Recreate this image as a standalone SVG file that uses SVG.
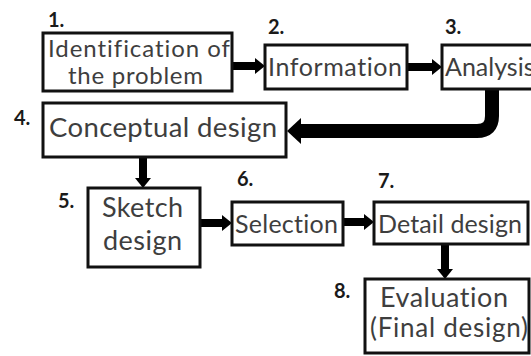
<svg xmlns="http://www.w3.org/2000/svg" width="531" height="356" viewBox="0 0 531 356">
  <style>
    .box { fill: #ffffff; stroke: #111111; stroke-width: 3; }
    .txt { font-family: Lato, "Open Sans", "Liberation Sans", sans-serif; fill: #3e3e3e; font-variant-ligatures: none; }
    .num { font-family: Lato, "Liberation Sans", sans-serif; font-weight: bold; font-size: 20px; fill: #1a1a1a; }
    .link { fill: none; stroke: #000000; stroke-width: 8; }
    .bend { fill: none; stroke: #000000; stroke-width: 14; stroke-linejoin: round; }
  </style>
  <defs>
    <marker id="head" markerUnits="userSpaceOnUse" markerWidth="11" markerHeight="17" refX="0" refY="8" orient="auto">
      <path d="M0,0 L10,8 L0,16 z" fill="#000000"/>
    </marker>
    <marker id="headBig" markerUnits="userSpaceOnUse" markerWidth="15" markerHeight="27" refX="0" refY="13" orient="auto">
      <path d="M0,0 L14,13 L0,26 z" fill="#000000"/>
    </marker>
  </defs>
  <rect width="531" height="356" fill="#ffffff"/>

  <!-- arrows between the steps -->
  <g id="connectors">
    <line class="link" x1="232" y1="66" x2="255" y2="66" marker-end="url(#head)"/>
    <line class="link" x1="407" y1="67" x2="432" y2="67" marker-end="url(#head)"/>
    <path class="bend" d="M492,89 V116 Q492,131 477,131 H301" marker-end="url(#headBig)"/>
    <line class="link" x1="143" y1="157" x2="143" y2="178" marker-end="url(#head)"/>
    <line class="link" x1="200" y1="223" x2="222" y2="223" marker-end="url(#head)"/>
    <line class="link" x1="343" y1="222" x2="364" y2="222" marker-end="url(#head)"/>
    <line class="link" x1="445" y1="244" x2="445" y2="269" marker-end="url(#head)"/>
  </g>

  <g id="node1">
    <rect class="box" x="43" y="33" width="189" height="58"/>
    <text class="txt" x="48" y="57" font-size="24" textLength="182">Identification of</text>
    <text class="txt" x="68" y="84" font-size="24" textLength="135">the problem</text>
    <text class="num" x="48" y="27">1.</text>
  </g>

  <g id="node2">
    <rect class="box" x="265" y="45" width="142" height="44"/>
    <text class="txt" x="268" y="76" font-size="25" textLength="134">Information</text>
    <text class="num" x="268" y="34">2.</text>
  </g>

  <g id="node3">
    <rect class="box" x="442" y="45" width="100" height="44"/>
    <text class="txt" x="445" y="76" font-size="25">Analysis</text>
    <text class="num" x="445" y="34">3.</text>
  </g>

  <g id="node4">
    <rect class="box" x="43" y="103" width="243" height="54"/>
    <text class="txt" x="49" y="137" font-size="27.5" textLength="228">Conceptual design</text>
    <text class="num" x="14" y="125">4.</text>
  </g>

  <g id="node5">
    <rect class="box" x="88" y="188" width="112" height="79"/>
    <text class="txt" x="102" y="217" font-size="27" textLength="81">Sketch</text>
    <text class="txt" x="103" y="250" font-size="27" textLength="79">design</text>
    <text class="num" x="58" y="208">5.</text>
  </g>

  <g id="node6">
    <rect class="box" x="232" y="202" width="111" height="43"/>
    <text class="txt" x="235" y="233" font-size="25" textLength="103">Selection</text>
    <text class="num" x="237" y="186">6.</text>
  </g>

  <g id="node7">
    <rect class="box" x="374" y="202" width="154" height="42"/>
    <text class="txt" x="378" y="233" font-size="25" textLength="144">Detail design</text>
    <text class="num" x="378" y="188">7.</text>
  </g>

  <g id="node8">
    <rect class="box" x="365" y="279" width="164" height="74"/>
    <text class="txt" x="380" y="307" font-size="27" textLength="128">Evaluation</text>
    <text class="txt" x="370" y="337" font-size="26" textLength="158">(Final design)</text>
    <text class="num" x="334" y="298">8.</text>
  </g>
</svg>
